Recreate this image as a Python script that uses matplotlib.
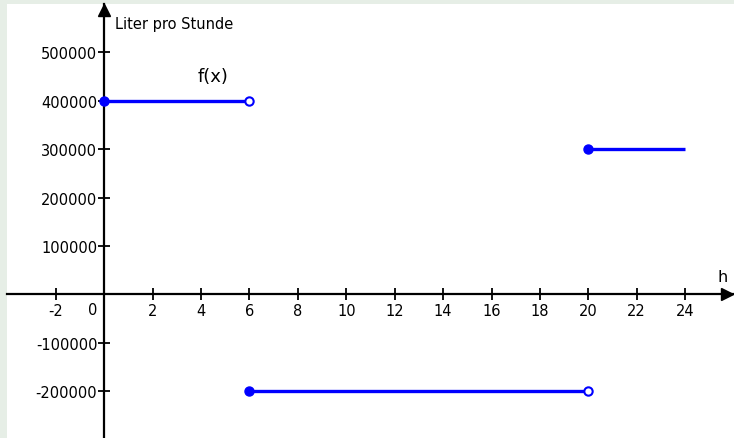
import matplotlib
matplotlib.use('Agg')
import matplotlib.pyplot as plt

plt.rcParams['axes.unicode_minus'] = False

# Stückweise Funktion: Zufluss in Liter pro Stunde
x_start = [0, 6, 20]
x_end = [6, 20, 24]
werte = [400000, -200000, 300000]
offene_enden = [True, True, False]

x_ticks = [-2, 2, 4, 6, 8, 10, 12, 14, 16, 18, 20, 22, 24]
y_ticks = [-200000, -100000, 100000, 200000, 300000, 400000, 500000]

blau = '#0000ff'

fig = plt.figure(figsize=(7.34, 4.39), dpi=100, facecolor='#e6eee6')
W, H = 734, 439
ax = fig.add_axes([7 / W, 0, 727 / W, 434 / H])
ax.set_facecolor('white')

ax.set_xlim(-4.02, 26.02)
ax.set_ylim(-297000, 600000)

# Achsen durch den Nullpunkt
for s in ['top', 'right']:
    ax.spines[s].set_visible(False)
ax.spines['left'].set_position(('data', 0))
ax.spines['bottom'].set_position(('data', 0))
ax.spines['left'].set_linewidth(1.6)
ax.spines['bottom'].set_linewidth(1.6)

ax.set_xticks(x_ticks)
ax.set_xticklabels([str(t) for t in x_ticks])
ax.set_yticks(y_ticks)
ax.set_yticklabels([str(t) for t in y_ticks])
ax.tick_params(direction='inout', length=8, width=1.3, labelsize=10.5, pad=1)
ax.tick_params(axis='x', pad=2)

ax.text(-0.47, -30600, '0', ha='center', va='center', fontsize=10.5)

# Pfeilspitzen
ax.plot(0.991, 0, '>k', markersize=9, transform=ax.get_yaxis_transform(), clip_on=False)
ax.plot(0, 0.986, '^k', markersize=9, transform=ax.get_xaxis_transform(), clip_on=False)

# Funktion zeichnen
for xs, xe, v, offen in zip(x_start, x_end, werte, offene_enden):
    ax.plot([xs, xe], [v, v], color=blau, linewidth=2.4, solid_capstyle='butt', zorder=3)
    ax.plot(xs, v, 'o', color=blau, markersize=6.5, zorder=4, clip_on=False)
    if offen:
        ax.plot(xe, v, 'o', markerfacecolor='white', markeredgecolor=blau,
                markeredgewidth=1.5, markersize=6, zorder=4)

ax.text(0.45, 560000, 'Liter pro Stunde', ha='left', va='center', fontsize=10.5)
ax.text(4.5, 451000, 'f(x)', ha='center', va='center', fontsize=13)
ax.text(25.55, 36000, 'h', ha='center', va='center', fontsize=11.5)

fig.savefig('out.png', dpi=100, facecolor=fig.get_facecolor())
